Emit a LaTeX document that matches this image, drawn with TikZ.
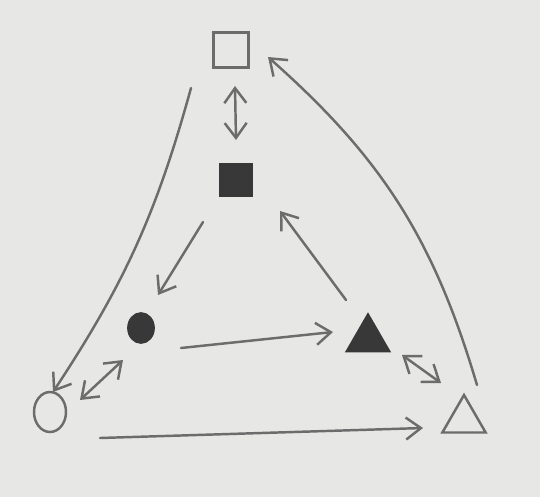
\documentclass[tikz,border=0pt]{standalone}
\usetikzlibrary{shapes.geometric,arrows.meta}

\definecolor{paper}{RGB}{231,231,229}
\definecolor{pencil}{RGB}{108,108,108}
\definecolor{lead}{RGB}{56,56,56}

\tikzset{
  hollow/.style={draw=pencil, line width=1.4pt, inner sep=0pt},
  filledshape/.style={draw=lead, fill=lead, line width=1pt, inner sep=0pt},
  link/.style={draw=pencil, line width=1.4pt, line cap=round,
    -{Straight Barb[length=3mm,width=4.4mm]}},
  twoway/.style={link, {Straight Barb[length=3mm,width=4.4mm]}-{Straight Barb[length=3mm,width=4.4mm]}}
}

\begin{document}
\begin{tikzpicture}[x=0.02cm, y=-0.02cm]
        % Paper
        \fill[paper] (0,0) rectangle (540,497);

        % Squares
        \node[hollow, rectangle, minimum size=0.7cm] (sq) at (231,50) {};
        \node[filledshape, rectangle, minimum size=0.66cm] (fsq) at (236,180) {};

        % Circles
        \node[filledshape, ellipse, minimum width=0.52cm, minimum height=0.6cm] (fci) at (141,328) {};
        \node[hollow, ellipse, minimum width=0.64cm, minimum height=0.8cm] (ci) at (50,412) {};

        % Triangles
        \node[filledshape, regular polygon, regular polygon sides=3, minimum size=1cm] (ftr) at (368,339) {};
        \node[hollow, regular polygon, regular polygon sides=3, minimum size=1cm] (tr) at (464,420) {};

        % Outer cycle
        \draw[link] ([xshift=-0.8cm,yshift=-0.76cm]sq.center) to[bend left=9] ([xshift=0.06cm,yshift=0.4cm]ci.center);
        \draw[link] ([xshift=1cm,yshift=-0.52cm]ci.center) -- ([xshift=-0.82cm,yshift=-0.16cm]tr.center);
        \draw[link] ([xshift=0.26cm,yshift=0.7cm]tr.center) to[bend right=16] ([xshift=0.74cm,yshift=-0.14cm]sq.center);

        % Inner cycle
        \draw[link] ([xshift=-0.66cm,yshift=-0.84cm]fsq.center) -- ([xshift=0.34cm,yshift=0.66cm]fci.center);
        \draw[link] ([xshift=0.8cm,yshift=-0.4cm]fci.center) -- ([xshift=-0.7cm,yshift=0.14cm]ftr.center);
        \draw[link] ([xshift=-0.44cm,yshift=0.78cm]ftr.center) -- ([xshift=0.88cm,yshift=-0.62cm]fsq.center);

        % Between the cycles
        \draw[twoway] ([xshift=0.08cm,yshift=-0.72cm]sq.center) -- ([xshift=0cm,yshift=0.8cm]fsq.center);
        \draw[twoway] ([xshift=-0.36cm,yshift=-0.64cm]fci.center) -- ([xshift=0.6cm,yshift=0.24cm]ci.center);
        \draw[twoway] ([xshift=0.68cm,yshift=-0.32cm]ftr.center) -- ([xshift=-0.46cm,yshift=0.74cm]tr.center);
\end{tikzpicture}
\end{document}
